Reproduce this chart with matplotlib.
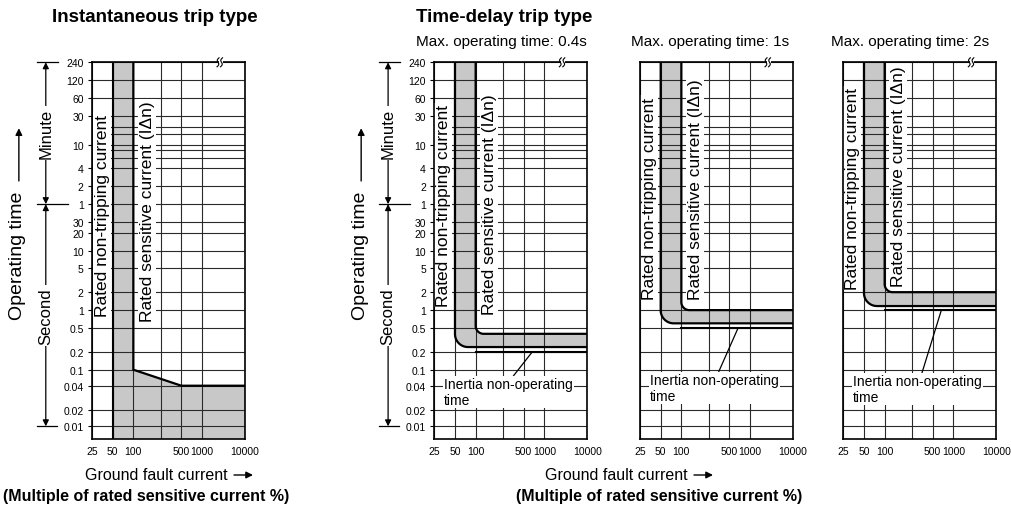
import numpy as np
import matplotlib
matplotlib.use("Agg")
import matplotlib.pyplot as plt
from matplotlib.ticker import FixedLocator, FixedFormatter, NullFormatter
from matplotlib.transforms import ScaledTranslation

plt.rcParams["font.family"] = ["Liberation Sans", "DejaVu Sans"]

# ---- axis definitions -------------------------------------------------------
# operating time in seconds (top block is minutes on the printed chart)
TIME_TICKS = [14400, 7200, 3600, 1800, 600, 240, 120, 60,
              30, 20, 10, 5, 2, 1, 0.5, 0.2, 0.1, 0.04, 0.02, 0.01]
TIME_LABELS = ["240", "120", "60", "30", "10", "4", "2", "1",
               "30", "20", "10", "5", "2", "1", "0.5", "0.2", "0.1", "0.04", "0.02", "0.01"]
TIME_MINOR = [1200, 900, 480, 360]          # 20, 15, 8, 6 minutes (unlabelled)
T_MIN, T_MAX = 0.005, 14400

CURRENT_TICKS = [25, 50, 100, 500, 1000, 10000]
CURRENT_LABELS = ["25", "50", "100", "500", "1000", "10000"]
CURRENT_MINOR = [250]
X_MIN, X_MAX = 25, 10000

# the printed scales are log-ish but squeezed at the ends
Y_ANCHOR_T = [0.005, 0.01, 0.02, 0.04, 0.1, 14400]
Y_ANCHOR_POS = [0.0, 12.7, 29.3, 53.3, 69.3, 376.7]
X_ANCHOR_I = [25, 1000, 10000]
X_ANCHOR_POS = [0.0, 110.0, 153.0]

# ---- curves -----------------------------------------------------------------
NON_TRIP = 50          # rated non-tripping current, %
SENSITIVE = 100        # rated sensitive current, %

# instantaneous type
INST_X = [100, 100, 500, 10000]
INST_T = [14400, 0.1, 0.04, 0.04]

# time-delay types
TD_TITLES = ["Max. operating time: 0.4s", "Max. operating time: 1s", "Max. operating time: 2s"]
TD_MAX_TIME = [0.4, 1.0, 2.0]
TD_LOWER_EDGE = [0.24, 0.6, 1.17]
TD_INERTIA = [0.2, 0.5, 1.0]


def x_fwd(v):
    v = np.clip(np.asarray(v, dtype=float), 1e-9, None)
    return np.interp(np.log10(v), np.log10(X_ANCHOR_I), X_ANCHOR_POS)


def x_inv(p):
    return 10 ** np.interp(np.asarray(p, dtype=float), X_ANCHOR_POS, np.log10(X_ANCHOR_I))


def y_fwd(v):
    v = np.clip(np.asarray(v, dtype=float), 1e-9, None)
    return np.interp(np.log10(v), np.log10(Y_ANCHOR_T), Y_ANCHOR_POS)


def y_inv(p):
    return 10 ** np.interp(np.asarray(p, dtype=float), Y_ANCHOR_POS, np.log10(Y_ANCHOR_T))


W, H = 1011, 510
fig = plt.figure(figsize=(W / 100, H / 100), dpi=100)
FS_TEXT = 12.5


def fpx(x, y):
    return x / W, 1 - y / H


def make_axes(left_px, labels):
    ax = fig.add_axes([left_px / W, (H - 440) / H, 153 / W, (440 - 63.3) / H])
    ax.set_xscale("function", functions=(x_fwd, x_inv))
    ax.set_yscale("function", functions=(y_fwd, y_inv))
    ax.set_xlim(X_MIN, X_MAX)
    ax.set_ylim(T_MIN, T_MAX)
    ax.xaxis.set_major_locator(FixedLocator(CURRENT_TICKS))
    ax.xaxis.set_major_formatter(FixedFormatter(CURRENT_LABELS))
    ax.xaxis.set_minor_locator(FixedLocator(CURRENT_MINOR))
    ax.xaxis.set_minor_formatter(NullFormatter())
    ax.yaxis.set_major_locator(FixedLocator(TIME_TICKS))
    ax.yaxis.set_minor_locator(FixedLocator(TIME_MINOR))
    ax.yaxis.set_minor_formatter(NullFormatter())
    if labels:
        ax.yaxis.set_major_formatter(FixedFormatter(TIME_LABELS))
        ax.tick_params(axis="y", which="major", length=3, width=0.8, pad=3, labelsize=7.5)
    else:
        ax.yaxis.set_major_formatter(NullFormatter())
        ax.tick_params(axis="y", which="major", length=0)
    ax.tick_params(axis="y", which="minor", length=0)
    ax.tick_params(axis="x", which="both", length=0, pad=5, labelsize=7.5)
    ax.grid(True, which="both", color="#2a2a2a", linewidth=0.8)
    for s in ax.spines.values():
        s.set_linewidth(1.2)
    # wavy break mark on the top edge
    tr = fig.dpi_scale_trans + ScaledTranslation(0.84, 1.0, ax.transAxes)
    ax.add_patch(plt.Rectangle((-0.02, -0.01), 0.04, 0.02, transform=tr,
                               facecolor="white", edgecolor="none", zorder=5, clip_on=False))
    t = np.linspace(0, 1, 30)
    for dx in (-0.035, 0.0):
        ax.plot(dx + 0.02 * t + 0.012 * np.sin(2 * np.pi * t), -0.045 + 0.09 * t,
                transform=tr, color="k", lw=0.8, zorder=6, clip_on=False)
    return ax


def side_text(ax, x_frac, y_frac, s):
    ax.text(x_frac, y_frac, s, transform=ax.transAxes, rotation=90,
            ha="center", va="bottom", fontsize=FS_TEXT, zorder=2,
            bbox=dict(facecolor="white", edgecolor="none", pad=1))


def time_axis_label(ax):
    yt = ax.get_yaxis_transform()
    mid_min = y_inv((y_fwd(14400) + y_fwd(60)) / 2)
    mid_sec = y_inv((y_fwd(60) + y_fwd(0.01)) / 2)
    bx = -0.302
    for lo, hi, mid, word in [(60, 14400, mid_min, "Minute"), (0.01, 60, mid_sec, "Second")]:
        for end in (lo, hi):
            ax.annotate("", xy=(bx, end), xytext=(bx, mid), xycoords=yt,
                        annotation_clip=False,
                        arrowprops=dict(arrowstyle="-|>", color="k", lw=0.9,
                                        shrinkA=0, shrinkB=0, mutation_scale=9))
        ax.text(bx, mid, word, transform=yt, rotation=90, ha="center", va="center",
                fontsize=12, bbox=dict(facecolor="white", edgecolor="none", pad=1.5))
    for val, x1 in [(14400, -0.222), (60, -0.157), (0.01, -0.229)]:
        ax.plot([-0.359, x1], [val, val], transform=yt, color="k", lw=0.9, clip_on=False)
    ax.text(-0.484, 0.49, "Operating time", transform=ax.transAxes, rotation=90,
            ha="center", va="center", fontsize=14)
    ax.annotate("", xy=(-0.478, 0.825), xytext=(-0.478, 0.685), xycoords="axes fraction",
                annotation_clip=False,
                arrowprops=dict(arrowstyle="-|>", color="k", lw=1.0,
                                shrinkA=0, shrinkB=0, mutation_scale=10))


def rounded(x_val, level, radius):
    x0, y0 = x_fwd(x_val), y_fwd(level)
    th = np.linspace(np.pi, 1.5 * np.pi, 25)
    px = np.concatenate([[x0], x0 + radius + radius * np.cos(th), [x_fwd(X_MAX)]])
    py = np.concatenate([[y_fwd(T_MAX)], y0 + radius + radius * np.sin(th), [y0]])
    return x_inv(px), y_inv(py)


GRAY = "#c8c8c8"

# ---- instantaneous ----------------------------------------------------------
ax0 = make_axes(92, True)
ax0.fill([NON_TRIP] + INST_X + [X_MAX, NON_TRIP],
         [T_MAX] + INST_T + [T_MIN, T_MIN], color=GRAY, zorder=1, lw=0)
ax0.plot([NON_TRIP, NON_TRIP], [T_MIN, T_MAX], color="k", lw=1.5, zorder=4)
ax0.plot(INST_X, INST_T, color="k", lw=1.6, zorder=4)
side_text(ax0, 0.067, 0.327, "Rated non-tripping current")
side_text(ax0, 0.36, 0.313, "Rated sensitive current (I\u0394n)")
time_axis_label(ax0)

# ---- time-delay -------------------------------------------------------------
td_left = [434.3, 640, 843.3]
nontrip_y = [0.353, 0.372, 0.398]
sens_y = [0.332, 0.372, 0.406]
inertia_y = [0.125, 0.136, 0.132]
for i, left in enumerate(td_left):
    ax = make_axes(left, i == 0)
    ox, oy = rounded(SENSITIVE, TD_MAX_TIME[i], 8)
    ix, iy = rounded(NON_TRIP, TD_LOWER_EDGE[i], 13)
    ax.fill(np.concatenate([ox, ix[::-1]]), np.concatenate([oy, iy[::-1]]),
            color=GRAY, zorder=1, lw=0)
    ax.plot(ox, oy, color="k", lw=1.6, zorder=4)
    ax.plot(ix, iy, color="k", lw=1.6, zorder=4)
    ax.plot([SENSITIVE, X_MAX], [TD_INERTIA[i]] * 2, color="k", lw=1.5, zorder=4)
    side_text(ax, 0.059, nontrip_y[i], "Rated non-tripping current")
    side_text(ax, 0.36, sens_y[i], "Rated sensitive current (I\u0394n)")
    ax.annotate("Inertia non-operating\ntime", xy=(670, TD_INERTIA[i]),
                xytext=(0.065, inertia_y[i]), textcoords="axes fraction",
                ha="left", va="center", fontsize=10, linespacing=1.15, zorder=3,
                bbox=dict(facecolor="white", edgecolor="none", pad=0.8),
                arrowprops=dict(arrowstyle="-", color="k", lw=0.9,
                                relpos=(0.53, 1.0), shrinkA=0, shrinkB=0))
    fig.text(*fpx([416, 631, 831][i], 42), TD_TITLES[i], ha="left", va="center", fontsize=11)
    if i == 0:
        time_axis_label(ax)

# ---- titles and x captions --------------------------------------------------
fig.text(*fpx(52, 18), "Instantaneous trip type", ha="left", va="center",
         fontsize=13.5, fontweight="bold")
fig.text(*fpx(416, 18), "Time-delay trip type", ha="left", va="center",
         fontsize=13.5, fontweight="bold")
for tx, cap_x in [(85, 146), (545, 659.5)]:
    fig.text(*fpx(tx, 476), "Ground fault current", ha="left", va="center", fontsize=11.5)
    ax0.annotate("", xy=(tx + 168, H - 476), xytext=(tx + 149, H - 476),
                 xycoords="figure pixels", annotation_clip=False,
                 arrowprops=dict(arrowstyle="-|>", color="k", lw=1.0,
                                 shrinkA=0, shrinkB=0, mutation_scale=10))
    fig.text(*fpx(cap_x, 497), "(Multiple of rated sensitive current %)", ha="center",
             va="center", fontsize=11.5, fontweight="bold")

fig.savefig("out.png", dpi=100, facecolor="white")
